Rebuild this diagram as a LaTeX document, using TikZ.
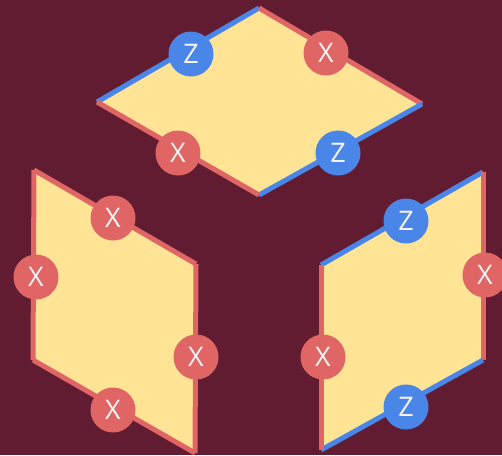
\documentclass[tikz,border=0pt]{standalone}
\usepackage{fontspec}
\setmainfont{Open Sans}
\definecolor{bg}{HTML}{611C32}
\definecolor{face}{HTML}{FFE496}
\definecolor{xred}{HTML}{E06666}
\definecolor{zblue}{HTML}{4A86E8}
\definecolor{txt}{HTML}{F3F3F3}
\tikzset{
  xedge/.style={draw=xred,line width=5pt},
  zedge/.style={draw=zblue,line width=5pt},
  xdot/.style={circle,fill=xred,minimum size=45pt,inner sep=0pt,text=txt,font=\fontsize{27}{27}\selectfont},
  zdot/.style={circle,fill=zblue,minimum size=45pt,inner sep=0pt,text=txt,font=\fontsize{27}{27}\selectfont},
}
\begin{document}
\begin{tikzpicture}[x=1pt,y=-1pt]
\fill[bg] (0,0) rectangle (502,455);
\useasboundingbox (0,0) rectangle (502,455);
% top rhombus
\coordinate (tT) at (259,8);
\coordinate (tL) at (97,102);
\coordinate (tR) at (422,104);
\coordinate (tB) at (259,195);
\fill[face] (tT) -- (tR) -- (tB) -- (tL) -- cycle;
\draw[zedge] (tL) -- (tT);
\draw[xedge] (tT) -- (tR);
\draw[zedge] (tR) -- (tB);
\draw[xedge] (tB) -- (tL);
\node[zdot] (tz1) at (191,54) {Z};
\node[xdot] (tx1) at (326,53) {X};
\node[xdot] (tx2) at (178,153) {X};
\node[zdot] (tz2) at (338,153) {Z};
% left parallelogram
\coordinate (lA) at (34,170);
\coordinate (lB) at (196,264);
\coordinate (lC) at (195,453);
\coordinate (lD) at (33,360);
\fill[face] (lA) -- (lB) -- (lC) -- (lD) -- cycle;
\draw[xedge] (lA) -- (lB);
\draw[xedge] (lB) -- (lC);
\draw[xedge] (lC) -- (lD);
\draw[xedge] (lD) -- (lA);
\node[xdot] (lx1) at (113,218) {X};
\node[xdot] (lx2) at (36,277) {X};
\node[xdot] (lx3) at (196,357) {X};
\node[xdot] (lx4) at (113,410) {X};
% right parallelogram
\coordinate (rA) at (321,265);
\coordinate (rB) at (483,172);
\coordinate (rC) at (483,360);
\coordinate (rD) at (321,450);
\fill[face] (rA) -- (rB) -- (rC) -- (rD) -- cycle;
\draw[zedge] (rA) -- (rB);
\draw[xedge] (rB) -- (rC);
\draw[zedge] (rC) -- (rD);
\draw[xedge] (rD) -- (rA);
\node[zdot] (rz1) at (406,221) {Z};
\node[xdot] (rx1) at (485,275) {X};
\node[xdot] (rx2) at (323,357) {X};
\node[zdot] (rz2) at (406,407) {Z};
\end{tikzpicture}
\end{document}
